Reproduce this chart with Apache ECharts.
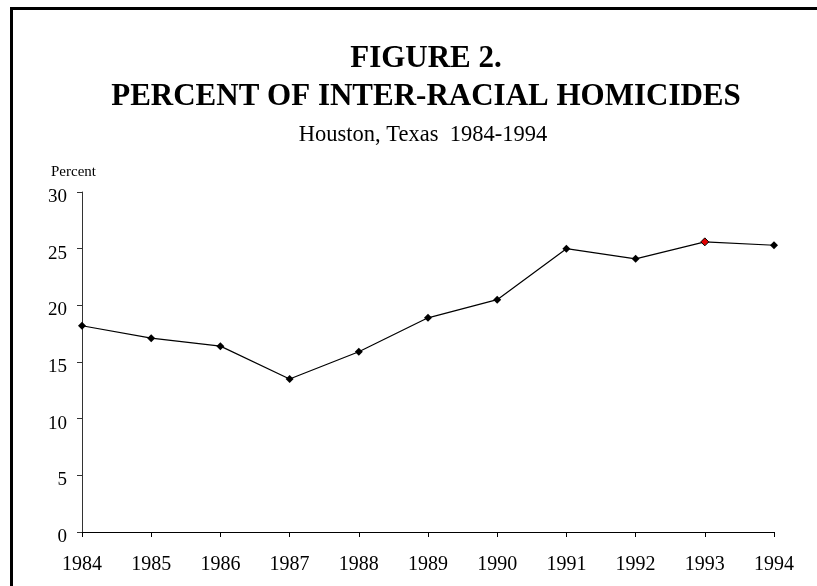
<!DOCTYPE html>
<html>
<head>
<meta charset="utf-8">
<script src="https://cdn.jsdelivr.net/npm/echarts@6/dist/echarts.min.js"></script>
<style>
  html, body { margin: 0; padding: 0; background: #fff; }
  #chart { width: 817px; height: 586px; }
</style>
</head>
<body>
<div id="chart"></div>
<script>
// Inter-racial share of homicides, Houston 1984-1994
const years = ['1984', '1985', '1986', '1987', '1988', '1989', '1990', '1991', '1992', '1993', '1994'];
const percentInterRacial = [18.2, 17.1, 16.4, 13.5, 15.9, 18.9, 20.5, 25.0, 24.1, 25.6, 25.3];
const highlightYear = '1993';

const serif = '"Liberation Serif", "Times New Roman", serif';

const chart = echarts.init(document.getElementById('chart'), null, { renderer: 'canvas' });

const points = percentInterRacial.map((v, i) => {
  if (years[i] === highlightYear) {
    return { value: v, itemStyle: { color: '#e00000', borderColor: '#000', borderWidth: 1 } };
  }
  return v;
});

chart.setOption({
  backgroundColor: '#fff',
  animation: false,
  title: [
    {
      text: 'FIGURE 2.\nPERCENT OF INTER-RACIAL HOMICIDES',
      left: 421, top: 35, textAlign: 'center',
      textStyle: { fontFamily: serif, fontWeight: 'bold', fontSize: 31, lineHeight: 38, color: '#000' }
    },
    {
      text: 'Houston, Texas  1984-1994',
      left: 418, top: 119, textAlign: 'center',
      textStyle: { fontFamily: serif, fontWeight: 'normal', fontSize: 22.5, color: '#000' }
    },
    {
      text: 'Percent',
      left: 46, top: 160,
      textStyle: { fontFamily: serif, fontWeight: 'normal', fontSize: 15, color: '#000' }
    }
  ],
  grid: { left: 82, right: 43, top: 192, bottom: 54, containLabel: false },
  xAxis: {
    type: 'category',
    data: years,
    boundaryGap: false,
    axisLine: { lineStyle: { color: '#000', width: 1 } },
    axisTick: { show: true, length: 5, lineStyle: { color: '#000' } },
    axisLabel: { fontFamily: serif, fontSize: 20, color: '#000', margin: 23 },
    splitLine: { show: false }
  },
  yAxis: {
    type: 'value',
    min: 0, max: 30, interval: 5,
    axisLine: { show: true, lineStyle: { color: '#333', width: 1 } },
    axisTick: { show: true, length: 5, lineStyle: { color: '#333' } },
    axisLabel: { fontFamily: serif, fontSize: 19, color: '#000', margin: 15, verticalAlign: 'top', lineHeight: 10 },
    splitLine: { show: false }
  },
  series: [{
    type: 'line',
    data: points,
    symbol: 'diamond',
    symbolSize: 8,
    showSymbol: true,
    lineStyle: { color: '#000', width: 1.2 },
    itemStyle: { color: '#000' }
  }],
  graphic: [
    { type: 'line', shape: { x1: 10, y1: 8.5, x2: 817, y2: 8.5 }, style: { stroke: '#000', lineWidth: 3 } },
    { type: 'line', shape: { x1: 11.5, y1: 7, x2: 11.5, y2: 586 }, style: { stroke: '#000', lineWidth: 3 } }
  ]
});
</script>
</body>
</html>
